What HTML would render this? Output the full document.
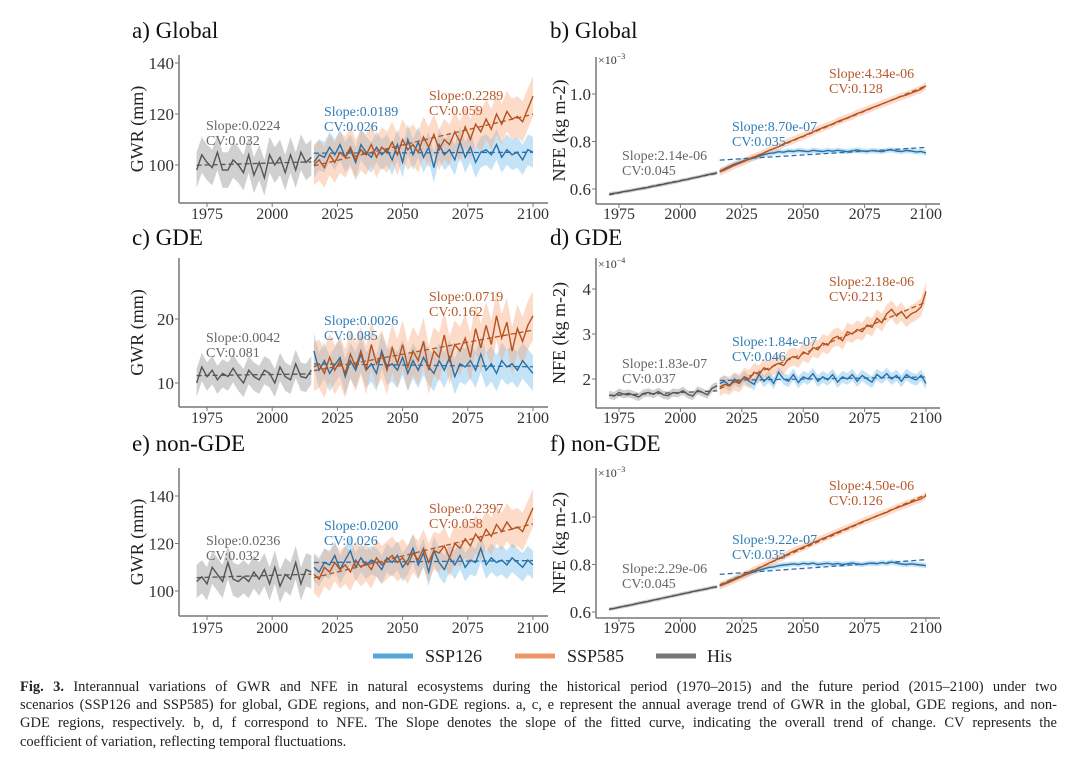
<!DOCTYPE html>
<html><head><meta charset="utf-8">
<style>
body{margin:0;background:#fff;width:1080px;height:765px;overflow:hidden;position:relative}
svg{position:absolute;left:0;top:0}
.cap{position:absolute;left:20px;width:1037px;font-family:"Liberation Serif",serif;font-size:14.5px;color:#222;white-space:nowrap}
.j{text-align:justify;text-align-last:justify}
</style></head>
<body>
<svg id="fig" width="1080" height="765" viewBox="0 0 1080 765"></svg>
<div class="cap j" style="top:679px"><b>Fig. 3.</b> Interannual variations of GWR and NFE in natural ecosystems during the historical period (1970–2015) and the future period (2015–2100) under two</div>
<div class="cap j" style="top:697px">scenarios (SSP126 and SSP585) for global, GDE regions, and non-GDE regions. a, c, e represent the annual average trend of GWR in the global, GDE regions, and non-</div>
<div class="cap j" style="top:715px">GDE regions, respectively. b, d, f correspond to NFE. The Slope denotes the slope of the fitted curve, indicating the overall trend of change. CV represents the</div>
<div class="cap" style="top:734px">coefficient of variation, reflecting temporal fluctuations.</div>
<script>
// years: historical 1971..2015 step 2; future 2016..2100 step 2
const hisStart=1971, futStart=2016, yearStep=2;
const xTickYears=[1975,2000,2025,2050,2075,2100];

const aHis=[98,104,101,99,105,98,98,102,100,97,104,96,101,95,104,100,103,97,104,98,105,101,103];
const a126=[101,104,103,107,104,108,103,106,101,108,105,103,107,104,106,102,108,101,110,104,109,103,107,99,108,104,106,102,109,103,107,101,105,106,104,108,103,106,104,105,102,106,105];
const a585=[100,102,99,104,101,105,103,107,102,106,104,108,103,107,105,109,104,110,106,108,105,111,107,112,106,110,108,113,109,115,110,116,113,118,114,120,116,121,118,119,117,122,127];
const aBands=[7,6,8];
const aTicks=[100,120,140];
const aTickLabels=['100','120','140'];

const bHis=[0.578,0.582,0.585,0.589,0.592,0.596,0.600,0.603,0.607,0.612,0.615,0.620,0.624,0.628,0.632,0.637,0.641,0.646,0.650,0.655,0.660,0.664,0.668];
const b126=[0.675,0.685,0.695,0.705,0.712,0.720,0.725,0.732,0.738,0.745,0.750,0.752,0.757,0.755,0.760,0.758,0.762,0.760,0.757,0.763,0.760,0.758,0.762,0.759,0.763,0.760,0.757,0.761,0.764,0.760,0.758,0.762,0.760,0.757,0.763,0.765,0.760,0.758,0.762,0.760,0.756,0.758,0.752];
const b585=[0.672,0.680,0.690,0.700,0.708,0.716,0.726,0.735,0.742,0.752,0.762,0.770,0.778,0.790,0.798,0.806,0.815,0.822,0.832,0.840,0.850,0.858,0.866,0.874,0.884,0.892,0.900,0.908,0.918,0.925,0.934,0.942,0.950,0.958,0.966,0.974,0.982,0.990,0.996,1.004,1.012,1.020,1.035];
const bBands=[0.008,0.011,0.016];
const bTicks=[0.6,0.8,1.0];
const bTickLabels=['0.6','0.8','1.0'];

const cHis=[10,12.5,11,12,10.5,11.5,11,12.3,11,10,12,11,10.5,12,11.5,10,12.5,11,10.5,13,11,10.8,12];
const c126=[15,12,13.5,11.5,12.8,14,11,13.5,12,14.5,12,13,11.5,15,12.5,13,12,14,11.5,13.5,12,14,12.5,11.5,13.5,12,14,11,13,12.5,13.5,12,14.5,12,13,11.5,13.5,12.5,13,12,13.5,12.5,11.5];
const c585=[12.5,13,11.5,14,12,13.5,11.5,14.5,12.5,15,12,16,13,14.5,12,15.5,13,16,12.5,15,13.5,16.5,12,15,14,17.5,13.5,16,15,17,14,18.5,15.5,19,16,20.5,17,19.5,15,18.5,16.5,19,20.5];
const cBands=[2.2,2.8,3.8];
const cTicks=[10,20];
const cTickLabels=['10','20'];

const dHis=[1.65,1.62,1.7,1.66,1.68,1.64,1.6,1.68,1.7,1.66,1.72,1.65,1.63,1.7,1.68,1.74,1.66,1.62,1.75,1.7,1.65,1.8,1.85];
const d126=[1.9,1.95,1.85,2.0,1.92,2.05,1.95,1.88,2.1,1.95,2.05,1.9,2.15,2.0,1.95,2.1,1.92,2.05,2.0,2.12,1.95,2.05,1.98,2.1,1.93,2.05,2.0,2.1,1.95,2.08,2.0,1.93,2.1,2.02,2.12,2.0,2.08,1.95,2.1,2.02,1.98,2.08,1.9];
const d585=[1.82,1.88,1.85,1.95,1.9,2.05,2.0,2.15,2.1,2.25,2.2,2.3,2.35,2.3,2.45,2.5,2.45,2.6,2.55,2.7,2.65,2.8,2.75,2.9,2.95,2.85,3.05,3.0,3.1,3.05,3.2,3.15,3.35,3.25,3.45,3.55,3.4,3.5,3.35,3.45,3.5,3.6,3.95];
const dBands=[0.09,0.13,0.2];
const dTicks=[2,3,4];
const dTickLabels=['2','3','4'];

const eHis=[104,106,103,110,107,104,112,105,104,106,104,108,105,109,103,110,102,107,105,112,103,109,108];
const e126=[110,108,112,111,115,109,113,117,110,114,111,113,112,109,114,112,115,110,113,118,111,116,108,117,112,109,114,111,115,110,113,112,118,111,114,112,113,111,114,112,110,113,111];
const e585=[107,105,110,108,112,109,111,108,113,110,112,109,114,111,113,115,112,114,111,116,113,118,112,117,116,119,114,120,118,122,119,124,121,126,123,128,125,129,126,127,125,130,135];
const eBands=[7,6,8];
const eTicks=[100,120,140];
const eTickLabels=['100','120','140'];

const fHis=[0.612,0.615,0.62,0.624,0.628,0.632,0.637,0.641,0.645,0.65,0.654,0.659,0.663,0.668,0.672,0.677,0.681,0.686,0.69,0.694,0.698,0.703,0.706];
const f126=[0.712,0.72,0.73,0.74,0.748,0.755,0.762,0.77,0.776,0.782,0.788,0.79,0.795,0.798,0.8,0.803,0.8,0.805,0.802,0.806,0.8,0.803,0.805,0.801,0.804,0.8,0.803,0.806,0.802,0.8,0.804,0.806,0.803,0.808,0.804,0.81,0.806,0.802,0.8,0.803,0.8,0.798,0.795];
const f585=[0.71,0.718,0.726,0.736,0.745,0.755,0.765,0.775,0.785,0.795,0.805,0.815,0.825,0.834,0.845,0.855,0.864,0.873,0.882,0.892,0.9,0.91,0.918,0.927,0.936,0.945,0.953,0.962,0.97,0.98,0.988,0.996,1.005,1.012,1.02,1.03,1.038,1.046,1.054,1.062,1.07,1.076,1.09];
const fBands=[0.008,0.011,0.016];
const fTicks=[0.6,0.8,1.0];
const fTickLabels=['0.6','0.8','1.0'];

const labHis=['Slope:0.0224\nCV:0.032','Slope:2.14e-06\nCV:0.045','Slope:0.0042\nCV:0.081','Slope:1.83e-07\nCV:0.037','Slope:0.0236\nCV:0.032','Slope:2.29e-06\nCV:0.045'];
const lab126=['Slope:0.0189\nCV:0.026','Slope:8.70e-07\nCV:0.035','Slope:0.0026\nCV:0.085','Slope:1.84e-07\nCV:0.046','Slope:0.0200\nCV:0.026','Slope:9.22e-07\nCV:0.035'];
const lab585=['Slope:0.2289\nCV:0.059','Slope:4.34e-06\nCV:0.128','Slope:0.0719\nCV:0.162','Slope:2.18e-06\nCV:0.213','Slope:0.2397\nCV:0.058','Slope:4.50e-06\nCV:0.126'];

// layout (pixels)
const L={x0:179,x1:548,xa:[1975,207,2100,533],lx:[206,324,429],tx:132,ytx:143,tickX:174};
const R={x0:596,x1:940,xa:[1975,619,2100,926],lx:[622,732,829],tx:550,ytx:565,tickX:591};
const panels=[
 {n:'a',title:'a) Global',col:L,top:55,bot:203,ya:[100,165,140,63],his:aHis,s1:a126,s5:a585,bands:aBands,ticks:aTicks,tl:aTickLabels,ly:[130,116,100],tb:38,xb:219,yl:'GWR (mm)'},
 {n:'b',title:'b) Global',col:R,top:57,bot:204,ya:[0.6,189,1.0,94],his:bHis,s1:b126,s5:b585,bands:bBands,ticks:bTicks,tl:bTickLabels,ly:[160,131,78],tb:38,xb:219,yl:'NFE (kg m-2)',exp:'−3',eb:64},
 {n:'c',title:'c) GDE',col:L,top:258,bot:407,ya:[10,383,20,319],his:cHis,s1:c126,s5:c585,bands:cBands,ticks:cTicks,tl:cTickLabels,ly:[342,325,301],tb:245,xb:423,yl:'GWR (mm)'},
 {n:'d',title:'d) GDE',col:R,top:258,bot:408,ya:[2,379,4,289],his:dHis,s1:d126,s5:d585,bands:dBands,ticks:dTicks,tl:dTickLabels,ly:[368,346,286],tb:245,xb:423,yl:'NFE (kg m-2)',exp:'−4',eb:268},
 {n:'e',title:'e) non-GDE',col:L,top:468,bot:616,ya:[100,591,140,496],his:eHis,s1:e126,s5:e585,bands:eBands,ticks:eTicks,tl:eTickLabels,ly:[545,530,513],tb:451,xb:633,yl:'GWR (mm)'},
 {n:'f',title:'f) non-GDE',col:R,top:468,bot:618,ya:[0.6,612,1.0,517],his:fHis,s1:f126,s5:f585,bands:fBands,ticks:fTicks,tl:fTickLabels,ly:[573,544,490],tb:451,xb:633,yl:'NFE (kg m-2)',exp:'−3',eb:477}
];
const NS='http://www.w3.org/2000/svg';
const svg=document.getElementById('fig');
function mk(t,a,p){const e=document.createElementNS(NS,t);for(const k in a)e.setAttribute(k,a[k]);(p||svg).appendChild(e);return e;}
const SER='"Liberation Serif",serif';
const colors={his:['#555555','rgba(150,150,150,0.45)','#666666'],s1:['#2a6fa5','rgba(110,185,235,0.4)','#2f7db5'],s5:['#b4531f','rgba(250,165,120,0.4)','#b8582a']};
function fit(xs,ys){const n=xs.length;let mx=0,my=0;for(let i=0;i<n;i++){mx+=xs[i];my+=ys[i];}mx/=n;my/=n;let sxy=0,sxx=0;for(let i=0;i<n;i++){sxy+=(xs[i]-mx)*(ys[i]-my);sxx+=(xs[i]-mx)**2;}const b=sxy/sxx;return [b,my-b*mx];}
panels.forEach((p,pi)=>{
 const c=p.col;
 const X=yr=>c.xa[1]+(yr-c.xa[0])*(c.xa[3]-c.xa[1])/(c.xa[2]-c.xa[0]);
 const Y=v=>p.ya[1]+(v-p.ya[0])*(p.ya[3]-p.ya[1])/(p.ya[2]-p.ya[0]);
 const g=mk('g',{});
 
 
 const t=mk('text',{x:c.tx,y:p.tb,'font-family':SER,'font-size':23,fill:'#111'},g);t.textContent=p.title;
 
 
 const ser=[['his',p.his,hisStart,p.bands[0]],['s1',p.s1,futStart,p.bands[1]],['s5',p.s5,futStart,p.bands[2]]];
 ser.forEach(([k,vals,st,bw])=>{
  const xs=vals.map((v,i)=>X(st+i*yearStep));
  let d='M'+xs.map((x,i)=>x.toFixed(1)+','+Y(vals[i]+bw).toFixed(1)).join('L');
  for(let i=vals.length-1;i>=0;i--)d+='L'+xs[i].toFixed(1)+','+Y(vals[i]-bw).toFixed(1);
  const b=mk('path',{d:d+'Z',fill:colors[k][1],stroke:'none'},g);
  
  
 });
 ser.forEach(([k,vals,st])=>{
  const yrs=vals.map((v,i)=>st+i*yearStep);
  const l=mk('polyline',{points:yrs.map((y,i)=>X(y).toFixed(1)+','+Y(vals[i]).toFixed(1)).join(' '),fill:'none',stroke:colors[k][0],'stroke-width':1.4},g);
  
  
  const [b,a]=fit(yrs,vals);
  const y0=yrs[0],y1=yrs[yrs.length-1];
  const tl=mk('line',{x1:X(y0),y1:Y(a+b*y0),x2:X(y1),y2:Y(a+b*y1),stroke:colors[k][0],'stroke-width':1.3,'stroke-dasharray':'5,3'},g);
  
  
 });
 mk('line',{x1:c.x0,y1:p.top,x2:c.x0,y2:p.bot,stroke:'#777','stroke-width':1.5},g);
 mk('line',{x1:c.x0,y1:p.bot,x2:c.x1,y2:p.bot,stroke:'#777','stroke-width':1.5},g);
 p.ticks.forEach((v,i)=>{
  mk('line',{x1:c.x0-4,y1:Y(v),x2:c.x0,y2:Y(v),stroke:'#777'},g);
  const tt=mk('text',{x:c.tickX,y:Y(v)+6,'text-anchor':'end','font-family':SER,'font-size':17,fill:'#333'},g);tt.textContent=p.tl[i];
  
  
 });
 xTickYears.forEach(yr=>{
  mk('line',{x1:X(yr),y1:p.bot,x2:X(yr),y2:p.bot+4,stroke:'#777'},g);
  const tt=mk('text',{x:X(yr),y:p.xb,'text-anchor':'middle','font-family':SER,'font-size':16,fill:'#333'},g);tt.textContent=yr;
  
  
 });
 const cy=(p.top+p.bot)/2;
 const yt=mk('text',{x:c.ytx,y:cy,'text-anchor':'middle','font-family':SER,'font-size':18,fill:'#222',transform:`rotate(-90 ${c.ytx} ${cy})`},g);yt.textContent=p.yl;
 
 
 if(p.exp){const et=mk('text',{x:598,y:p.eb,'font-family':SER,'font-size':12,fill:'#333'},g);et.innerHTML='×10<tspan dy="-5" font-size="8">'+p.exp+'</tspan>';
  
  }
 [[labHis,'his'],[lab126,'s1'],[lab585,'s5']].forEach(([arr,k],j)=>{
  arr[pi].split('\n').forEach((s,li)=>{
   const at=mk('text',{x:c.lx[j],y:p.ly[j]+li*15,'font-family':SER,'font-size':14,fill:colors[k][2]},g);at.textContent=s;
   
   
  });
 });
});
const legend=[['SSP126','#55a6da',373,425],['SSP585','#f0956a',515,567],['His','#777777',656,707]];
legend.forEach(([n,col,lx,tx])=>{
 const gg=mk('g',{});
 
 
 mk('line',{x1:lx,y1:656,x2:lx+40,y2:656,stroke:col,'stroke-width':5},gg);
 const t=mk('text',{x:tx,y:662,'font-family':SER,'font-size':18,fill:'#222'},gg);t.textContent=n;
});
</script>
</body></html>
